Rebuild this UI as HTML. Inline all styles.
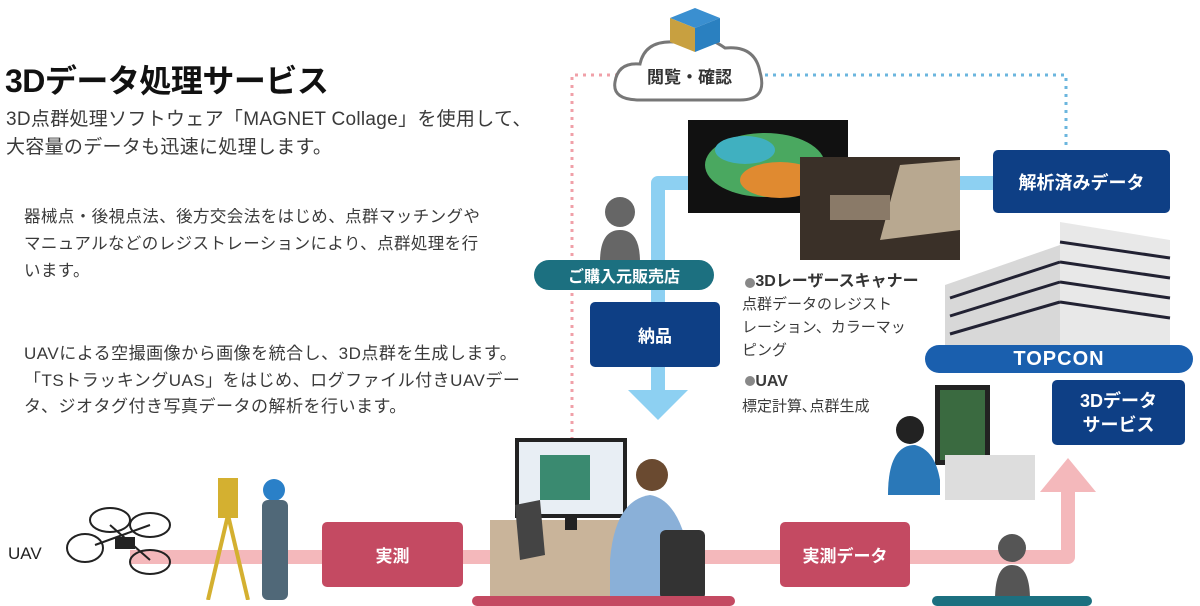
<!DOCTYPE html>
<html><head><meta charset="utf-8"><style>
body{margin:0;width:1200px;height:600px;overflow:hidden;background:#fff;font-family:"Liberation Sans","Noto Sans CJK JP",sans-serif;position:relative}
.a{position:absolute;white-space:nowrap}
.box{position:absolute;color:#fff;font-weight:bold;display:flex;align-items:center;justify-content:center;text-align:center;border-radius:5px}
.t{color:#3a3a3a}
</style></head><body>
<svg class="a" style="left:0;top:0" width="1200" height="600">
  <path d="M572,440 V75 H625" fill="none" stroke="#f0a0a8" stroke-width="3" stroke-dasharray="3,5"/>
  <path d="M765,75 H1066 V150" fill="none" stroke="#6bb6de" stroke-width="3" stroke-dasharray="3,5"/>
  <path d="M995,183 H658 V392" fill="none" stroke="#8dd0f2" stroke-width="14" stroke-linejoin="round"/>
  <polygon points="628,390 688,390 658,420" fill="#8dd0f2"/>
  <path d="M130,557 H1068 V490" fill="none" stroke="#f4b8bb" stroke-width="14" stroke-linejoin="round"/>
  <polygon points="1040,492 1096,492 1068,458" fill="#f4b8bb"/>
  <path d="M640,100 Q612,100 615,82 Q618,62 640,64 Q645,40 675,42 Q700,30 725,48 Q755,45 760,72 Q768,100 740,100 Z" fill="#fff" stroke="#777" stroke-width="3"/>
  <polygon points="695,8 720,18 695,28 670,18" fill="#3a8fd0"/>
  <polygon points="670,18 695,28 695,52 670,42" fill="#c8a040"/>
  <polygon points="720,18 695,28 695,52 720,42" fill="#2a80c0"/>
  <rect x="688" y="120" width="160" height="93" fill="#111"/>
  <ellipse cx="765" cy="165" rx="60" ry="32" fill="#4aa860"/>
  <ellipse cx="780" cy="180" rx="40" ry="18" fill="#e08a30"/>
  <ellipse cx="745" cy="150" rx="30" ry="14" fill="#40b0c0"/>
  <rect x="800" y="157" width="160" height="103" fill="#3a3028"/>
  <polygon points="900,165 960,160 960,230 880,240" fill="#b8a890"/>
  <rect x="830" y="195" width="60" height="25" fill="#8a7a68"/>
  <circle cx="620" cy="212" r="15" fill="#666"/>
  <path d="M600,262 Q600,230 620,230 Q640,230 640,262Z" fill="#666"/>
  <circle cx="1012" cy="548" r="14" fill="#555"/>
  <path d="M995,600 Q995,565 1012,565 Q1030,565 1030,600Z" fill="#555"/>
  <polygon points="1060,222 1170,240 1170,345 1060,345" fill="#e8e8e8"/>
  <polygon points="945,285 1060,245 1060,345 945,345" fill="#d8d8d8"/>
  <g stroke="#223" stroke-width="3">
    <line x1="950" y1="298" x2="1060" y2="262"/><line x1="950" y1="316" x2="1060" y2="282"/><line x1="950" y1="334" x2="1060" y2="302"/>
    <line x1="1060" y1="262" x2="1170" y2="278"/><line x1="1060" y1="282" x2="1170" y2="298"/><line x1="1060" y1="302" x2="1170" y2="318"/><line x1="1060" y1="242" x2="1170" y2="258"/>
  </g>
  <rect x="935" y="385" width="55" height="80" fill="#222"/><rect x="940" y="390" width="45" height="70" fill="#3a6a40"/>
  <rect x="945" y="455" width="90" height="45" fill="#ddd"/>
  <circle cx="910" cy="430" r="14" fill="#222"/>
  <path d="M888,495 Q888,445 915,445 Q935,450 940,480 L940,495Z" fill="#2a78b8"/>
  <rect x="490" y="520" width="170" height="80" fill="#c9b49a"/>
  <rect x="515" y="438" width="112" height="80" fill="#222"/>
  <rect x="519" y="442" width="104" height="72" fill="#e8eef4"/>
  <rect x="540" y="455" width="50" height="45" fill="#3a8a70"/>
  <rect x="565" y="515" width="12" height="15" fill="#222"/>
  <polygon points="515,505 540,500 545,555 520,560" fill="#444"/>
  <circle cx="652" cy="475" r="16" fill="#6a4a30"/>
  <path d="M610,560 Q615,500 650,495 Q680,500 690,560 L690,600 L610,600Z" fill="#8ab0d8"/>
  <rect x="660" y="530" width="45" height="70" fill="#333" rx="6"/>
  <rect x="218" y="478" width="20" height="40" fill="#d4b030"/>
  <line x1="228" y1="515" x2="208" y2="600" stroke="#d4b030" stroke-width="4"/>
  <line x1="228" y1="515" x2="248" y2="600" stroke="#d4b030" stroke-width="4"/>
  <circle cx="274" cy="490" r="11" fill="#2a80c8"/>
  <rect x="262" y="500" width="26" height="100" fill="#506878" rx="6"/>
  <g fill="none" stroke="#222" stroke-width="2">
    <ellipse cx="110" cy="520" rx="20" ry="12"/><ellipse cx="150" cy="525" rx="20" ry="12"/>
    <ellipse cx="85" cy="548" rx="18" ry="14"/><ellipse cx="150" cy="562" rx="20" ry="12"/>
    <line x1="95" y1="545" x2="150" y2="525"/><line x1="110" y1="525" x2="150" y2="560"/>
  </g>
  <rect x="115" y="537" width="20" height="12" fill="#222"/>
  <circle cx="750" cy="283" r="5" fill="#888"/><circle cx="750" cy="381" r="5" fill="#888"/>
</svg>
<div class="a" style="left:647px;top:63px;font-size:17px;font-weight:bold;color:#333">閲覧・確認</div>
<div class="a" style="left:5px;top:56px;font-size:32px;font-weight:bold;color:#111;letter-spacing:-0.5px">3Dデータ処理サービス</div>
<div class="a t" style="left:6px;top:106px;font-size:19px;line-height:28px;letter-spacing:0.3px">3D点群処理ソフトウェア「MAGNET Collage」を使用して、<br>大容量のデータも迅速に処理します。</div>
<div class="a t" style="left:24px;top:204px;font-size:16.5px;line-height:27px;letter-spacing:0.4px">器械点・後視点法、後方交会法をはじめ、点群マッチングや<br>マニュアルなどのレジストレーションにより、点群処理を行<br>います。</div>
<div class="a t" style="left:24px;top:341px;font-size:17px;line-height:26.5px;letter-spacing:0.5px">UAVによる空撮画像から画像を統合し、3D点群を生成します。<br>「TSトラッキングUAS」をはじめ、ログファイル付きUAVデー<br>タ、ジオタグ付き写真データの解析を行います。</div>
<div class="a t" style="left:742px;top:270px;font-size:15px;line-height:23px"><b style="color:#333;font-size:16px">&nbsp;&nbsp;&nbsp;3Dレーザースキャナー</b><br>点群データのレジスト<br>レーション、カラーマッ<br>ピング</div>
<div class="a t" style="left:742px;top:369px;font-size:15px;line-height:25px"><b style="font-size:16px">&nbsp;&nbsp;&nbsp;UAV</b><br>標定計算､点群生成</div>
<div class="a" style="left:8px;top:544px;font-size:17px;color:#222">UAV</div>
<div class="box" style="left:534px;top:260px;width:180px;height:30px;background:#1c7080;border-radius:15px;font-size:16px">ご購入元販売店</div>
<div class="box" style="left:590px;top:302px;width:130px;height:65px;background:#0e3f85;font-size:17px">納品</div>
<div class="box" style="left:993px;top:150px;width:177px;height:63px;background:#0e3f85;font-size:18px">解析済みデータ</div>
<div class="box" style="left:925px;top:345px;width:268px;height:28px;background:#1a5fae;border-radius:14px;font-size:20px;letter-spacing:1px">TOPCON</div>
<div class="box" style="left:1052px;top:380px;width:133px;height:65px;background:#0e3f85;font-size:18px;line-height:24px">3Dデータ<br>サービス</div>
<div class="box" style="left:322px;top:522px;width:141px;height:65px;background:#c44a62;font-size:17px">実測</div>
<div class="box" style="left:780px;top:522px;width:130px;height:65px;background:#c44a62;font-size:17px">実測データ</div>
<div class="box" style="left:472px;top:596px;width:263px;height:10px;background:#c44a62"></div>
<div class="box" style="left:932px;top:596px;width:160px;height:10px;background:#1c7080"></div>
</body></html>
